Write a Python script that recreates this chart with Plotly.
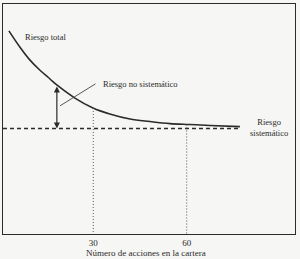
import plotly.graph_objects as go

# Data
curve_x = [2.9, 6.4, 9.6, 12.8, 16.1, 18.3, 24.1, 29.9, 35.3, 41.8, 48.2, 54.6, 61.0, 67.5, 77.1]
curve_y = [88.3, 81.3, 75.7, 71.3, 67.4, 64.8, 59.1, 54.8, 52.2, 50.0, 48.9, 48.0, 47.6, 47.2, 46.7]
systematic_level = 45.9
systematic_x = [1.0, 77.1]
guide_x = [30, 60]
guide_top = [54.8, 47.6]
tick_vals = [30, 60]
tick_text = ["30", "60"]

FONT = "Liberation Serif, Times New Roman, serif"
INK = "#2b2b2b"

fig = go.Figure()

# total risk curve
fig.add_trace(go.Scatter(x=curve_x, y=curve_y, mode="lines",
                         line=dict(color=INK, width=1.6, shape="spline"),
                         hoverinfo="skip"))
# systematic risk dashed line
fig.add_trace(go.Scatter(x=systematic_x, y=[systematic_level, systematic_level], mode="lines",
                         line=dict(color=INK, width=1.5, dash="4px,3px"), hoverinfo="skip"))
# dotted guides
for gx, gt in zip(guide_x, guide_top):
    fig.add_trace(go.Scatter(x=[gx, gx], y=[gt, 0], mode="lines",
                             line=dict(color="#555", width=1, dash="1px,2px"), hoverinfo="skip"))

annotations = [
    dict(x=0.068, y=85.6, xref="paper", yref="y", text="Riesgo total", showarrow=False,
         xanchor="left", yanchor="middle", font=dict(family=FONT, size=8.5, color=INK)),
    dict(x=32.5, y=65.2, xref="x", yref="y", text="Riesgo no sistemático", showarrow=False,
         xanchor="left", yanchor="middle", font=dict(family=FONT, size=8.5, color=INK)),
    dict(x=86.3, y=46.5, xref="x", yref="y", text="Riesgo<br>sistemático", showarrow=False,
         xanchor="center", yanchor="middle", align="center",
         font=dict(family=FONT, size=8.5, color=INK)),
    dict(x=0.49, y=-0.083, xref="paper", yref="paper", text="Número de acciones en la cartera",
         showarrow=False, xanchor="center", yanchor="middle",
         font=dict(family=FONT, size=9, color=INK)),
    # double-headed arrow between curve and systematic line
    dict(x=18.3, y=systematic_level, ax=18.3, ay=64.8, xref="x", yref="y", axref="x", ayref="y",
         text="", showarrow=True, arrowhead=2, arrowside="end+start", arrowsize=1,
         arrowwidth=1.2, arrowcolor=INK, standoff=0, startstandoff=0),
    # pointer line to label
    dict(x=19.3, y=55.7, ax=31.2, ay=65.7, xref="x", yref="y", axref="x", ayref="y",
         text="", showarrow=True, arrowhead=0, arrowwidth=0.9, arrowcolor="#444"),
]

fig.update_layout(
    width=300, height=259,
    margin=dict(l=3, r=5, t=4, b=25),
    paper_bgcolor="#f6f6f4", plot_bgcolor="#f6f6f4",
    showlegend=False,
    annotations=annotations,
    xaxis=dict(range=[1.0, 94.8], showgrid=False, zeroline=False, showline=True, mirror=True,
               linecolor=INK, linewidth=1, tickvals=tick_vals, ticktext=tick_text, ticks="",
               tickfont=dict(family=FONT, size=9, color=INK), fixedrange=True),
    yaxis=dict(range=[0, 100], showgrid=False, zeroline=False, showline=True, mirror=True,
               linecolor=INK, linewidth=1, showticklabels=False, ticks="", fixedrange=True),
)

fig.write_html("out.html")
